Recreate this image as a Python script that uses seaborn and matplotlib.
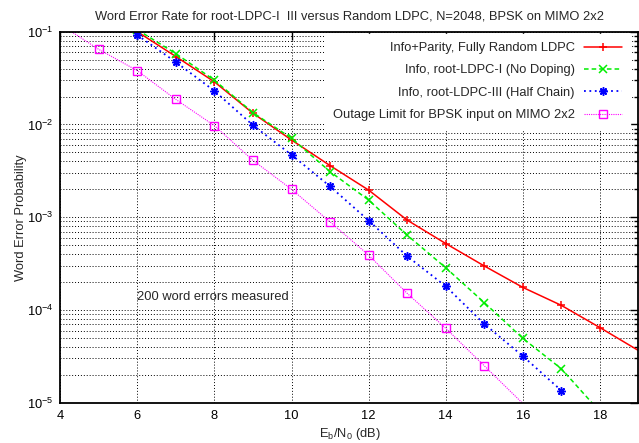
import matplotlib
matplotlib.use("Agg")
import matplotlib.pyplot as plt
import numpy as np
import pandas as pd
import seaborn as sns
from matplotlib.ticker import LogLocator, LogFormatterSciNotation, MultipleLocator, NullFormatter

# values (Eb/N0 in dB, word error rate)
ebno_random = [6, 7, 8, 9, 10, 11, 12, 13, 14, 15, 16, 17, 18, 19]
wer_random = [0.100, 0.054, 0.0288, 0.0132, 0.0068, 0.0036, 0.00196, 0.00093,
              0.00052, 0.000298, 0.000175, 0.000112, 0.0000645, 0.0000365]

ebno_root1 = [6, 7, 8, 9, 10, 11, 12, 13, 14, 15, 16, 17, 18]
wer_root1 = [0.105, 0.058, 0.030, 0.0134, 0.0071, 0.0031, 0.00153, 0.00064,
             0.000285, 0.00012, 0.0000494, 0.0000232, 0.0000080]

ebno_root3 = [6, 7, 8, 9, 10, 11, 12, 13, 14, 15, 16, 17]
wer_root3 = [0.092, 0.047, 0.0230, 0.0098, 0.0047, 0.00215, 0.00092, 0.00038,
             0.00018, 0.0000706, 0.0000318, 0.0000135]

ebno_outage = [4, 5, 6, 7, 8, 9, 10, 11, 12, 13, 14, 15, 16]
wer_outage = [0.12, 0.0645, 0.038, 0.0186, 0.0097, 0.0041, 0.0020, 0.00089,
              0.00039, 0.000151, 0.0000635, 0.000025, 0.0000098]

labels = ["Info+Parity, Fully Random LDPC",
          "Info, root-LDPC-I (No Doping)",
          "Info, root-LDPC-III (Half Chain)",
          "Outage Limit for BPSK input on MIMO 2x2"]

sns.set_style("white")
plt.rcParams['font.family'] = ['Liberation Sans', 'DejaVu Sans']
plt.rcParams['mathtext.fontset'] = 'custom'
plt.rcParams['mathtext.rm'] = 'Liberation Sans'
plt.rcParams['mathtext.it'] = 'Liberation Sans:italic'

fig = plt.figure(figsize=(6.39, 4.43), dpi=100)
ax = fig.add_axes([60.2/639, 1 - 402.7/443, (638.5 - 60.2)/639, (402.7 - 31.7)/443])

fs = 9.3

red, green, blue, mag = "#ff0000", "#00ee00", "#0000ff", "#ff00ff"

df = pd.DataFrame({"x": ebno_random, "y": wer_random})
sns.lineplot(data=df, x="x", y="y", ax=ax, color=red, lw=1.1, marker="+",
             markersize=6, markeredgewidth=1.1, markeredgecolor=red,
             markevery=list(range(len(df) - 1)), label=labels[0])

df = pd.DataFrame({"x": ebno_root1, "y": wer_root1})
sns.lineplot(data=df, x="x", y="y", ax=ax, color=green, lw=1.1, linestyle=(0, (3, 2)),
             marker="x", markersize=6, markeredgewidth=1.1, markeredgecolor=green,
             label=labels[1])

df = pd.DataFrame({"x": ebno_root3, "y": wer_root3})
sns.lineplot(data=df, x="x", y="y", ax=ax, color=blue, lw=1.3, linestyle=(0, (1, 2)),
             marker=(8, 2, 0), markersize=6, markeredgewidth=1.1, markeredgecolor=blue,
             markerfacecolor=blue, label=labels[2])

df = pd.DataFrame({"x": ebno_outage, "y": wer_outage})
sns.lineplot(data=df, x="x", y="y", ax=ax, color=mag, lw=0.8, linestyle=(0, (1, 1)),
             marker="s", markersize=6, markerfacecolor="none", markeredgecolor=mag,
             markeredgewidth=1.0, markevery=list(range(len(df) - 1)), label=labels[3])

ax.set_yscale("log")
ax.set_xlim(4, 19)
ax.set_ylim(1e-5, 1e-1)
ax.xaxis.set_major_locator(MultipleLocator(2))
ax.yaxis.set_major_locator(LogLocator(base=10, numticks=10))
ax.yaxis.set_major_formatter(LogFormatterSciNotation())
ax.yaxis.set_minor_locator(LogLocator(base=10, subs=np.arange(2, 10), numticks=20))
ax.yaxis.set_minor_formatter(NullFormatter())

ax.grid(True, which="major", color="black", linestyle=(0, (1, 2)), lw=0.7)
ax.grid(True, which="minor", axis="y", color="black", linestyle=(0, (1, 2)), lw=0.7)
ax.tick_params(which="both", direction="in", top=True, right=True, labelsize=fs, colors="black")
ax.tick_params(which="major", length=6, width=1, pad=5)
ax.tick_params(which="minor", length=3, width=1)
for s in ax.spines.values():
    s.set_color("black")
    s.set_linewidth(1.3)

ax.set_xlabel(r"E$_\mathrm{b}$/N$_\mathrm{0}$ (dB)", fontsize=fs, labelpad=3)
ax.set_ylabel("Word Error Probability", fontsize=fs, labelpad=0)
ax.set_title("Word Error Rate for root-LDPC-I  III versus Random LDPC, N=2048, BPSK on MIMO 2x2",
             fontsize=fs, pad=9)

ax.text(6.0, 1.38e-4, "200 word errors measured", fontsize=fs, ha="left", va="center")

leg = ax.legend(loc="upper right", bbox_to_anchor=(0.99, 1.0), markerfirst=False, fontsize=fs,
                frameon=True, fancybox=False, framealpha=1, handlelength=3.0,
                handletextpad=0.7, labelspacing=0.8, borderpad=0.6, borderaxespad=0.2)
leg.get_frame().set_facecolor("white")
leg.get_frame().set_edgecolor("white")

fig.savefig("out.png", dpi=100)
